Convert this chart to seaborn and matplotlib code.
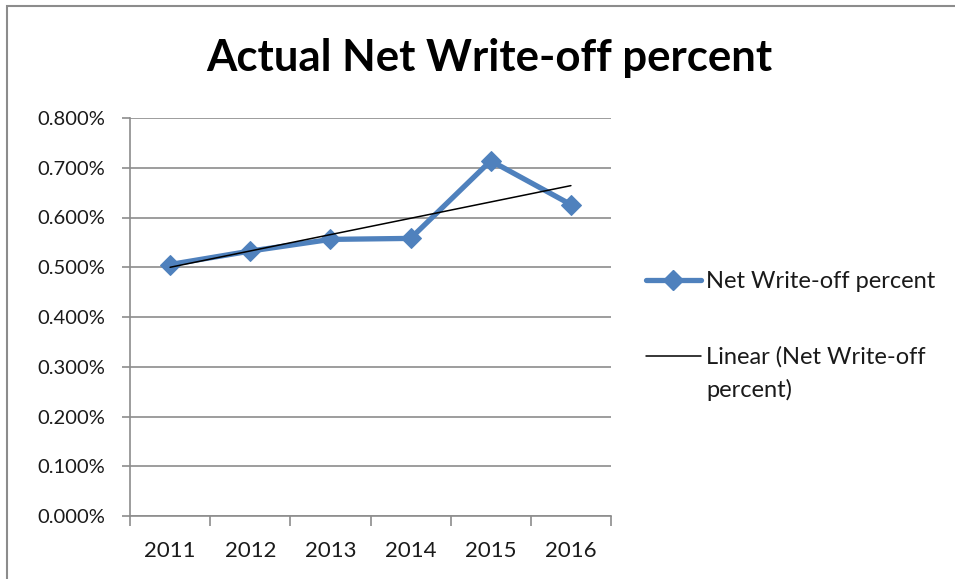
import numpy as np
import pandas as pd
import matplotlib
matplotlib.use("Agg")
import matplotlib.pyplot as plt
import seaborn as sns
from matplotlib.lines import Line2D
from matplotlib.patches import Rectangle

years = ["2011", "2012", "2013", "2014", "2015", "2016"]
net_writeoff = [0.5055, 0.5325, 0.556, 0.558, 0.714, 0.626]  # percent
y_ticks = [0.0, 0.1, 0.2, 0.3, 0.4, 0.5, 0.6, 0.7, 0.8]
title = "Actual Net Write-off percent"
series_label = "Net Write-off percent"
trend_label_lines = ["Linear (Net Write-off", "percent)"]

sns.set_theme(style="white")
plt.rcParams["font.family"] = ["Lato", "DejaVu Sans"]

pos = np.arange(len(years))
df = pd.DataFrame({"pos": pos, "val": net_writeoff})
coef = np.polyfit(pos, net_writeoff, 1)
df["trend"] = np.polyval(coef, pos)

fig = plt.figure(figsize=(9.55, 5.79), dpi=100)
ax = fig.add_axes([130 / 955, 1 - 516 / 579, 481 / 955, 398 / 579])

blue = "#4F81BD"
sns.lineplot(data=df, x="pos", y="val", ax=ax, color=blue, linewidth=3.8,
             marker="D", markersize=10, markeredgecolor=blue, zorder=3)
sns.lineplot(data=df, x="pos", y="trend", ax=ax, color="black", linewidth=1.1, zorder=4)

ax.set_xlim(-0.5, len(years) - 0.5)
ax.set_ylim(0, 0.8)
ax.set_xlabel("")
ax.set_ylabel("")

ax.set_yticks(y_ticks)
ax.set_yticklabels([f"{v:.3f}%" for v in y_ticks], fontsize=14.5, color="#1a1a1a")
ax.yaxis.grid(True, color="#8c8c8c", linewidth=1.2)
ax.xaxis.grid(False)

ax.set_xticks(np.arange(-0.5, len(years), 1.0))
ax.set_xticklabels([])
ax.set_xticks(pos, minor=True)
ax.set_xticklabels(years, minor=True, fontsize=16, color="#1a1a1a")
ax.tick_params(axis="x", which="major", direction="out", length=7, width=1.2,
               color="#8c8c8c", bottom=True)
ax.tick_params(axis="x", which="minor", length=0, pad=18, bottom=True)
ax.tick_params(axis="y", direction="out", length=6, width=1.2, color="#8c8c8c",
               left=True, pad=12)

for s in ["top", "right"]:
    ax.spines[s].set_visible(False)
for s in ["left", "bottom"]:
    ax.spines[s].set_color("#8c8c8c")
    ax.spines[s].set_linewidth(1.2)

fig.text(489 / 955, 1 - 58 / 579, title, ha="center", va="center",
         fontsize=31.5, fontweight="bold", color="black")

handles = [
    Line2D([], [], color=blue, linewidth=3.8, marker="D", markersize=10),
    Line2D([], [], color="black", linewidth=1.1),
]
leg = fig.legend(handles, [series_label, trend_label_lines[0]], loc="upper left",
                 bbox_to_anchor=(625 / 955, 1 - 250 / 579), frameon=False,
                 fontsize=17, handlelength=2.3, handletextpad=0.25,
                 labelspacing=2.3, labelcolor="#1a1a1a")

fig.canvas.draw()
t2 = leg.get_texts()[1]
bb = t2.get_window_extent(fig.canvas.get_renderer()).transformed(fig.transFigure.inverted())
fig.text(bb.x0, bb.y0 - 33 / 579 + (bb.y1 - bb.y0) / 2, trend_label_lines[1],
         ha="left", va="center", fontsize=17, color="#1a1a1a")

fig.patches.append(Rectangle((7 / 955, -0.01), 1.05, 1 - 6 / 579 + 0.01,
                             transform=fig.transFigure, fill=False,
                             edgecolor="#8c8c8c", linewidth=1.5))

fig.savefig("out.png", dpi=100)
